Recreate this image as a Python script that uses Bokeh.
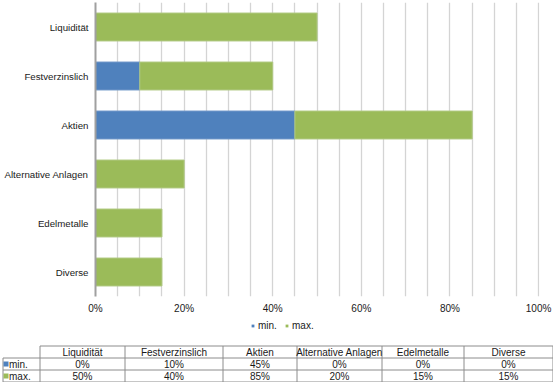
from bokeh.plotting import figure
from bokeh.models import (FactorRange, Range1d, FixedTicker, NumeralTickFormatter,
                          Legend, LegendItem, ColumnDataSource)
from bokeh.embed import file_html
from bokeh.resources import INLINE
from bokeh.core.properties import value

# ---- data ----
categories = ["Liquidität", "Festverzinslich", "Aktien", "Alternative Anlagen", "Edelmetalle", "Diverse"]
min_values = [0.00, 0.10, 0.45, 0.00, 0.00, 0.00]
max_values = [0.50, 0.40, 0.85, 0.20, 0.15, 0.15]
series_names = ["min.", "max."]
x_ticks = [0.0, 0.2, 0.4, 0.6, 0.8, 1.0]
grid_ticks = [0.0, 0.05, 0.1, 0.15, 0.2, 0.25, 0.3, 0.35, 0.4, 0.45, 0.5,
              0.55, 0.6, 0.65, 0.7, 0.75, 0.8, 0.85, 0.9, 0.95, 1.0]

# ---- style ----
BLUE = "#4F81BD"
GREEN = "#9BBB59"
FONT = "Liberation Sans"
TXT = "#1a1a1a"
FS = "10px"
W = 553
CH = 318
TH = 64

# ---- chart ----
p = figure(width=W, height=CH,
           y_range=FactorRange(factors=categories[::-1], range_padding=0),
           x_range=Range1d(0, 1.002),
           output_backend="svg", toolbar_location=None,
           min_border_left=95, min_border_right=14, min_border_top=2, min_border_bottom=22)
p.outline_line_color = None

src = ColumnDataSource(dict(cat=categories, mn=min_values, mx=max_values,
                            zero=[0.0] * len(categories)))
r_min = p.hbar(y="cat", left="zero", right="mn", height=0.57, fill_color=BLUE,
               line_color="#6f97c9", line_width=1, source=src)
r_max = p.hbar(y="cat", left="mn", right="mx", height=0.57, fill_color=GREEN,
               line_color="#b0c982", line_width=1, source=src)

p.xaxis.ticker = FixedTicker(ticks=x_ticks)
p.xaxis.formatter = NumeralTickFormatter(format="0%")
p.xaxis.axis_line_color = None
p.xaxis.major_tick_line_color = None
p.xaxis.minor_tick_line_color = None
p.xaxis.major_tick_out = 0
p.xaxis.minor_tick_out = 0
p.xaxis.major_label_standoff = 6
p.xaxis.major_label_text_font = FONT
p.xaxis.major_label_text_font_size = FS
p.xaxis.major_label_text_color = TXT

p.yaxis.axis_line_color = "#a0a0a0"
p.yaxis.axis_line_width = 2
p.yaxis.major_tick_line_color = None
p.yaxis.minor_tick_line_color = None
p.yaxis.major_tick_out = 0
p.yaxis.minor_tick_out = 0
p.yaxis.major_label_standoff = 7
p.yaxis.major_label_text_font = FONT
p.yaxis.major_label_text_font_size = "9.7px"
p.yaxis.major_label_text_color = TXT

p.xgrid.ticker = FixedTicker(ticks=grid_ticks)
p.xgrid.grid_line_color = "#d4d4d4"
p.xgrid.grid_line_width = 1.3
p.ygrid.grid_line_color = None

# ---- legend + data table ----
t = figure(width=W, height=TH, x_range=Range1d(0, W), y_range=Range1d(TH, 0),
           output_backend="svg", toolbar_location=None, min_border=0,
           x_axis_type=None, y_axis_type=None)
t.outline_line_color = None
t.xgrid.grid_line_color = None
t.ygrid.grid_line_color = None

col_edges = [39.5, 124.5, 222.5, 296.5, 381.5, 463.5, 552.5]
row_edges = [27.5, 39.5, 51.5, 63.5]
label_left = 2.5

x0, y0, x1, y1 = [], [], [], []
x0.append(col_edges[0]); x1.append(col_edges[-1]); y0.append(row_edges[0]); y1.append(row_edges[0])
for r in row_edges[1:]:
    x0.append(label_left); x1.append(col_edges[-1]); y0.append(r); y1.append(r)
for c in col_edges:
    x0.append(c); x1.append(c); y0.append(row_edges[0]); y1.append(row_edges[-1])
x0.append(label_left); x1.append(label_left); y0.append(row_edges[1]); y1.append(row_edges[-1])
t.segment(x0=x0, y0=y0, x1=x1, y1=y1, line_color="#8c8c8c", line_width=1)

col_centers = [(col_edges[i] + col_edges[i + 1]) / 2 for i in range(len(categories))]
row_centers = [(row_edges[i] + row_edges[i + 1]) / 2 for i in range(3)]

tx, ty, tt = [], [], []
for i, c in enumerate(categories):
    tx.append(col_centers[i]); ty.append(row_centers[0]); tt.append(c)
    tx.append(col_centers[i]); ty.append(row_centers[1]); tt.append(f"{min_values[i]:.0%}")
    tx.append(col_centers[i]); ty.append(row_centers[2]); tt.append(f"{max_values[i]:.0%}")
t.text(x=tx, y=ty, text=tt, text_align="center", text_baseline="middle",
       text_font=value(FONT), text_font_size=FS, text_color=TXT)

sq = t.scatter(x=[5.5, 5.5], y=row_centers[1:], marker="square", size=5,
               fill_color=[BLUE, GREEN], line_color=None)
t.text(x=[8.5, 8.5], y=row_centers[1:], text=series_names, text_align="left",
       text_baseline="middle", text_font=value(FONT), text_font_size=FS, text_color=TXT)

legend = Legend(items=[LegendItem(label=series_names[0], renderers=[sq], index=0),
                       LegendItem(label=series_names[1], renderers=[sq], index=1)],
                orientation="horizontal", location=(249, 51),
                glyph_width=7, glyph_height=7, label_height=10, label_standoff=2,
                spacing=5, padding=0, margin=0, border_line_color=None,
                background_fill_alpha=0, label_text_font=FONT,
                label_text_font_size=FS, label_text_color=TXT)
t.add_layout(legend)

open("out.html", "w").write(file_html([p, t], INLINE))
